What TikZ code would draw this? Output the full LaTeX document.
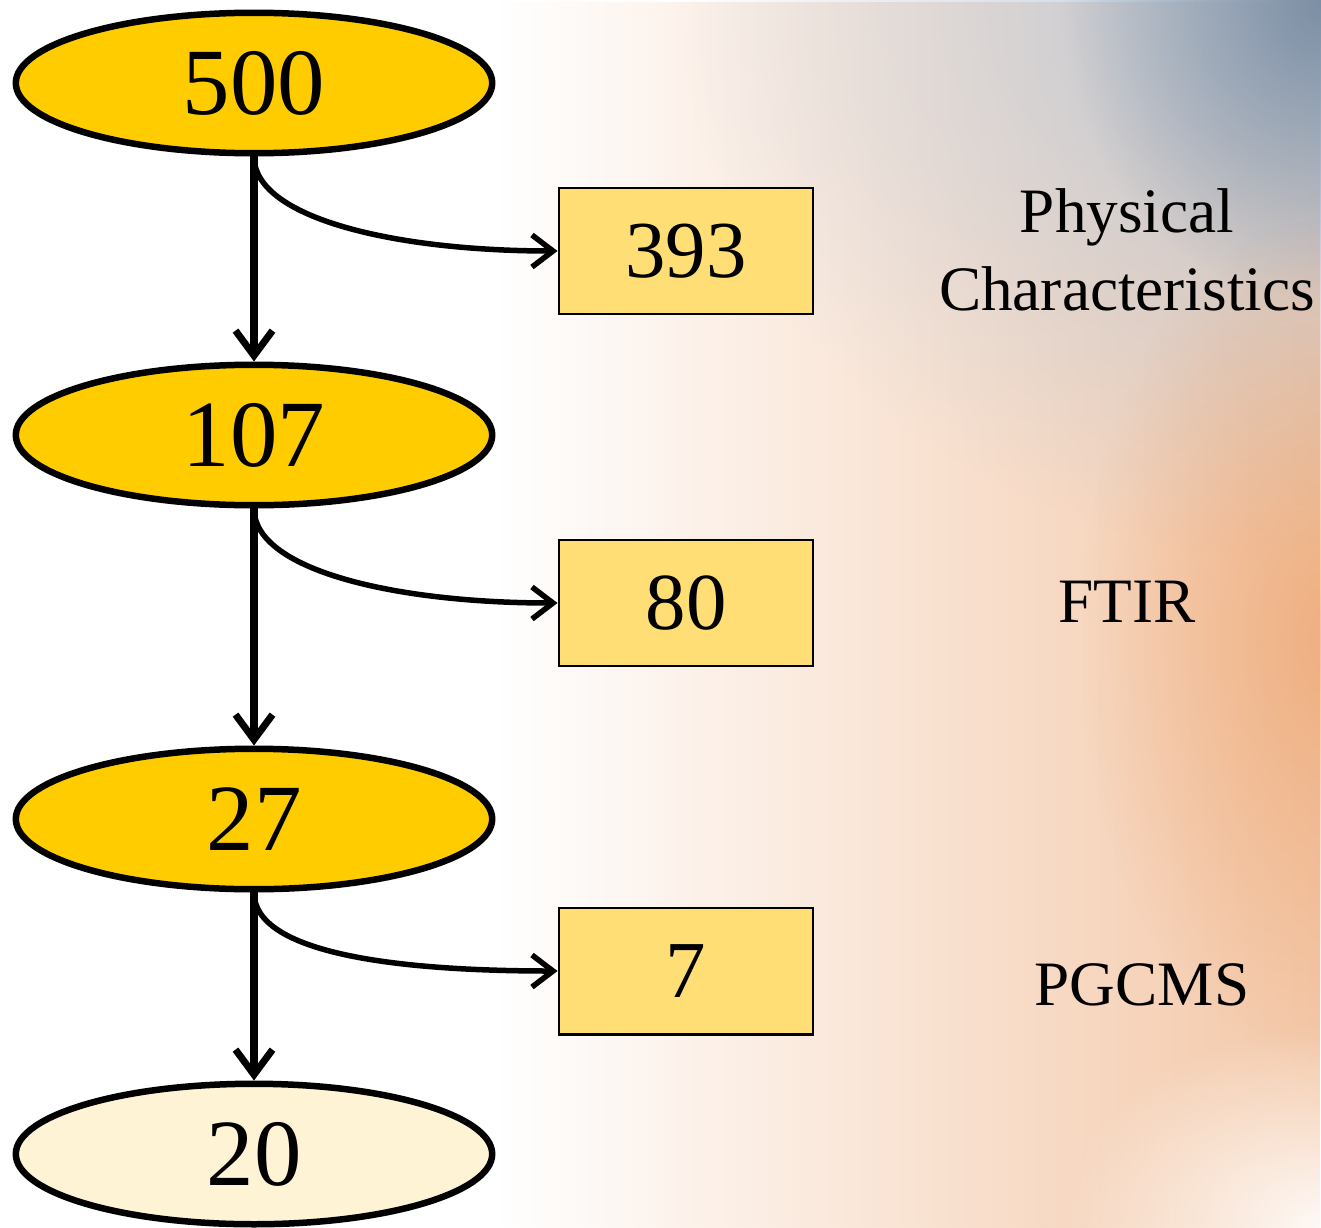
\documentclass[tikz,border=0pt]{standalone}
\usepackage{fontspec}
\setmainfont{Liberation Serif}
\usetikzlibrary{positioning,arrows.meta,shapes.geometric,fadings}

\definecolor{gold}{RGB}{255,204,0}
\definecolor{paleyellow}{RGB}{255,223,117}
\definecolor{cream}{RGB}{255,243,214}
\definecolor{skyhaze}{RGB}{185,203,222}
\definecolor{slate}{RGB}{110,128,150}
\definecolor{peach}{RGB}{244,200,168}
\definecolor{ember}{RGB}{236,160,105}

\tikzfading[name=versdroite, left color=transparent!100, right color=transparent!0]
\tikzfading[name=halo, inner color=transparent!0, outer color=transparent!100]

\begin{document}
\begin{tikzpicture}[
      x=0.02cm, y=-0.02cm,
      etape/.style={
        draw,
        ellipse,
        line width=0.13cm,
        fill=gold,
        minimum width=9.53cm,
        minimum height=2.81cm,
        font=\fontsize{54}{60}\selectfont
      },
      rejet/.style={
        draw,
        rectangle,
        line width=0.05cm,
        fill=paleyellow,
        minimum width=5.09cm,
        minimum height=2.53cm,
        font=\fontsize{46}{52}\selectfont
      },
      methode/.style={
        align=center,
        font=\fontsize{36}{44}\selectfont
      },
      suite/.style={
        line width=0.15cm,
        -{Straight Barb[length=0.5cm,width=0.74cm,line width=0.14cm]}
      },
      ecart/.style={
        line width=0.11cm,
        -{Straight Barb[length=0.42cm,width=0.64cm,line width=0.11cm]}
      }
    ]
    % background
    \useasboundingbox (0,0) rectangle (1321,1227);
    \fill[white] (0,0) rectangle (1321,1227);
    \fill[peach, path fading=versdroite] (500,0) rectangle (1321,1227);
    \fill[skyhaze, path fading=halo] (1321,0) ellipse (640 and 560);
    \fill[slate, opacity=0.8, path fading=halo] (1321,0) ellipse (260 and 300);
    \fill[ember, opacity=0.6, path fading=halo] (1321,640) ellipse (240 and 420);
    \fill[white, opacity=0.9, path fading=halo] (1321,1227) ellipse (260 and 200);

    % samples
    \node[etape] (n500) at (254,83) {500} ;
    \node[etape] (n107) at (254,435) {107} ;
    \node[etape] (n27) at (254,819) {27} ;
    \node[etape, fill=cream] (n20) at (254,1154) {20} ;

    % removed
    \node[rejet] (r393) at (686,251) {393} ;
    \node[rejet] (r80) at (686,603) {80} ;
    \node[rejet] (r7) at (686,971) {7} ;

    \node[methode] (m1) at (1127,250) {Physical\\Characteristics} ;
    \node[methode] (m2) at (1127,602) {FTIR} ;
    \node[methode] (m3) at (1142,985) {PGCMS} ;

    \draw[suite] (n500.south) -- (n107.north) ;
    \draw[suite] (n107.south) -- (n27.north) ;
    \draw[suite] (n27.south) -- (n20.north) ;

    \draw[ecart] (n500.south) to[out=-90, in=180, out looseness=0.5, in looseness=1.3] (r393.west) ;
    \draw[ecart] (n107.south) to[out=-90, in=180, out looseness=0.5, in looseness=1.3] (r80.west) ;
    \draw[ecart] (n27.south) to[out=-90, in=180, out looseness=0.5, in looseness=1.3] (r7.west) ;

  \end{tikzpicture}
\end{document}
